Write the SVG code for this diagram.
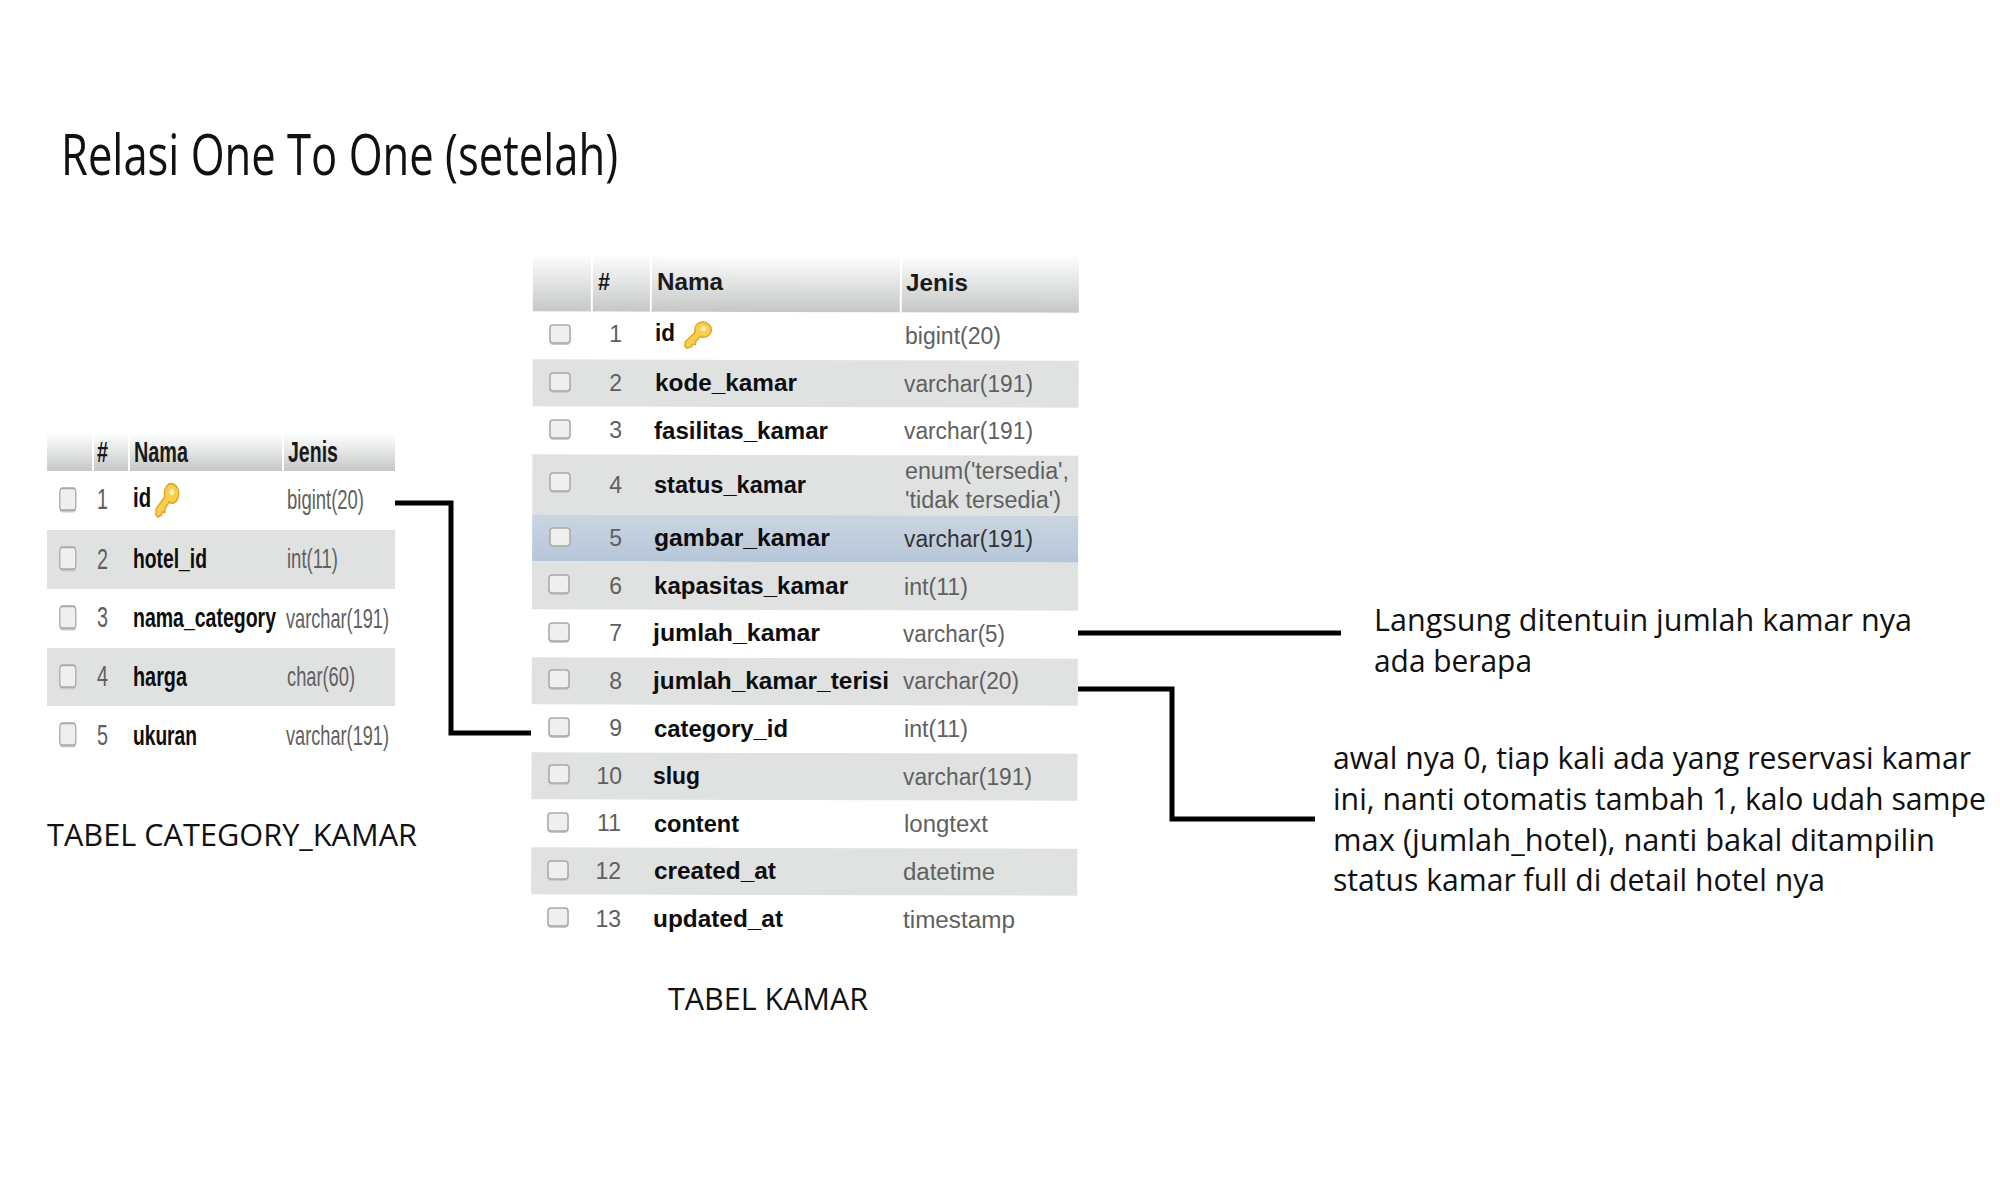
<svg xmlns="http://www.w3.org/2000/svg" width="2000" height="1200" viewBox="0 0 2000 1200">
<style>
text{font-family:"Liberation Sans",Arial,sans-serif}
.h{font-weight:700;fill:#1a1a1a;font-size:24px}
.hl{font-weight:700;fill:#1a1a1a;font-size:29px}
.n{font-weight:700;fill:#0d0d0d;font-size:23px}
.nl{font-weight:700;fill:#0d0d0d;font-size:28px}
.t{fill:#606060;font-size:23px}
.tl{fill:#606060;font-size:28px}
.d{fill:#606060;font-size:23px;text-anchor:end}
.dl{fill:#606060;font-size:29px}
.a{font-family:"Open Sans","Noto Sans",sans-serif;fill:#111;font-size:31px}
.odd{fill:#e0e2e2}
.sep{stroke:#fff;stroke-width:2;fill:none}
.conn{fill:none;stroke:#000;stroke-width:5}
</style>
<defs>
<linearGradient id="hg" x1="0" y1="0" x2="0" y2="1"><stop offset="0" stop-color="#fff"/><stop offset="1" stop-color="#c6c8c8"/></linearGradient>
<linearGradient id="sg" x1="0" y1="0" x2="0" y2="1"><stop offset="0" stop-color="#cbd5e1"/><stop offset="1" stop-color="#b6c6da"/></linearGradient>
<g id="cb"><rect x="0.5" y="2" width="21" height="19" rx="4" fill="#c9c9c9"/><rect x="1" y="1" width="20" height="18" rx="3" fill="#efefef" stroke="#a9a9a9" stroke-width="1.5"/></g>
<g id="key"><path d="M20 4a12 12 0 0 1 16 6a11 11 0 0 1-8 14a10 10 0 0 1-6-1l-6 6l-1 5l-4 0l-1 3l-6 2l-3-3l1-6l13-13a11 11 0 0 1 5-13z" fill="#f7cf4d" stroke="#e0a62a" stroke-width="2"/><circle cx="26" cy="12" r="3.5" fill="#fdf0b0"/></g>
</defs>
<rect width="2000" height="1200" fill="#fff"/>
<g id="title"><text class="a" x="61" y="175" style="font-size:56px" textLength="557" lengthAdjust="spacingAndGlyphs">Relasi One To One (setelah)</text></g>
<g id="table-category-kamar">
<rect x="47" y="433" width="348" height="38" fill="url(#hg)"/>
<path class="sep" d="M93 433V471M129 433V471M283 433V471"/>
<rect class="odd" x="47" y="530" width="348" height="59"/>
<rect class="odd" x="47" y="648" width="348" height="58"/>
<text class="hl" x="97" y="462" textLength="11" lengthAdjust="spacingAndGlyphs">#</text>
<text class="hl" x="134" y="462" textLength="54" lengthAdjust="spacingAndGlyphs">Nama</text>
<text class="hl" x="288" y="462" textLength="50" lengthAdjust="spacingAndGlyphs">Jenis</text>
<use href="#cb" transform="translate(59 487) scale(.8 1.22)"/>
<use href="#cb" transform="translate(59 546) scale(.8 1.22)"/>
<use href="#cb" transform="translate(59 605) scale(.8 1.22)"/>
<use href="#cb" transform="translate(59 664) scale(.8 1.22)"/>
<use href="#cb" transform="translate(59 722) scale(.8 1.22)"/>
<text class="dl" x="97" y="509" textLength="11" lengthAdjust="spacingAndGlyphs">1</text>
<text class="dl" x="97" y="569" textLength="11" lengthAdjust="spacingAndGlyphs">2</text>
<text class="dl" x="97" y="627" textLength="11" lengthAdjust="spacingAndGlyphs">3</text>
<text class="dl" x="97" y="686" textLength="11" lengthAdjust="spacingAndGlyphs">4</text>
<text class="dl" x="97" y="745" textLength="11" lengthAdjust="spacingAndGlyphs">5</text>
<text class="nl" x="133" y="507" textLength="18" lengthAdjust="spacingAndGlyphs">id</text>
<use href="#key" transform="translate(155 481) scale(.65 .92)"/>
<text class="nl" x="133" y="568" textLength="74" lengthAdjust="spacingAndGlyphs">hotel_id</text>
<text class="nl" x="133" y="627" textLength="143" lengthAdjust="spacingAndGlyphs">nama_category</text>
<text class="nl" x="133" y="686" textLength="54" lengthAdjust="spacingAndGlyphs">harga</text>
<text class="nl" x="133" y="745" textLength="64" lengthAdjust="spacingAndGlyphs">ukuran</text>
<text class="tl" x="287" y="509" textLength="77" lengthAdjust="spacingAndGlyphs">bigint(20)</text>
<text class="tl" x="287" y="568" textLength="51" lengthAdjust="spacingAndGlyphs">int(11)</text>
<text class="tl" x="286" y="628" textLength="103" lengthAdjust="spacingAndGlyphs">varchar(191)</text>
<text class="tl" x="287" y="686" textLength="68" lengthAdjust="spacingAndGlyphs">char(60)</text>
<text class="tl" x="286" y="745" textLength="103" lengthAdjust="spacingAndGlyphs">varchar(191)</text>
<text class="a" x="47" y="846" textLength="370" lengthAdjust="spacingAndGlyphs">TABEL CATEGORY_KAMAR</text>
</g>
<g id="table-kamar">
<g transform="rotate(.16 800 600)">
<rect x="532" y="254" width="546" height="58" fill="url(#hg)"/>
<path class="sep" d="M591 254V312M650 254V312M900 254V312"/>
<rect class="odd" x="532" y="360" width="546" height="47"/>
<rect class="odd" x="532" y="455" width="546" height="60"/>
<rect x="532" y="515" width="546" height="47" fill="url(#sg)"/>
<rect class="odd" x="532" y="562" width="546" height="48"/>
<rect class="odd" x="532" y="658" width="546" height="47"/>
<rect class="odd" x="532" y="753" width="546" height="47"/>
<rect class="odd" x="532" y="848" width="546" height="47"/>
</g>
<text class="h" x="598" y="290" textLength="12" lengthAdjust="spacingAndGlyphs">#</text>
<text class="h" x="657" y="290" textLength="66" lengthAdjust="spacingAndGlyphs">Nama</text>
<text class="h" x="906" y="291" textLength="62" lengthAdjust="spacingAndGlyphs">Jenis</text>
<use href="#cb" x="549" y="324"/><use href="#cb" x="549" y="372"/><use href="#cb" x="549" y="419"/><use href="#cb" x="549" y="472"/><use href="#cb" x="549" y="527"/><use href="#cb" x="548" y="574"/><use href="#cb" x="548" y="622"/><use href="#cb" x="548" y="669"/><use href="#cb" x="548" y="717"/><use href="#cb" x="548" y="764"/><use href="#cb" x="547" y="812"/><use href="#cb" x="547" y="860"/><use href="#cb" x="547" y="907"/>
<text class="d" x="622" y="342">1</text>
<text class="d" x="622" y="391">2</text>
<text class="d" x="622" y="438">3</text>
<text class="d" x="622" y="493">4</text>
<text class="d" x="622" y="546">5</text>
<text class="d" x="622" y="594">6</text>
<text class="d" x="622" y="641">7</text>
<text class="d" x="622" y="689">8</text>
<text class="d" x="622" y="736">9</text>
<text class="d" x="622" y="784">10</text>
<text class="d" x="621" y="831">11</text>
<text class="d" x="621" y="879">12</text>
<text class="d" x="621" y="927">13</text>
<text class="n" x="655" y="341" textLength="20" lengthAdjust="spacingAndGlyphs">id</text>
<use href="#key" transform="translate(684 320) scale(.75 .72)"/>
<text class="n" x="655" y="391" textLength="142" lengthAdjust="spacingAndGlyphs">kode_kamar</text>
<text class="n" x="654" y="439" textLength="174" lengthAdjust="spacingAndGlyphs">fasilitas_kamar</text>
<text class="n" x="654" y="493" textLength="152" lengthAdjust="spacingAndGlyphs">status_kamar</text>
<text class="n" x="654" y="546" textLength="176" lengthAdjust="spacingAndGlyphs">gambar_kamar</text>
<text class="n" x="654" y="594" textLength="194" lengthAdjust="spacingAndGlyphs">kapasitas_kamar</text>
<text class="n" x="653" y="641" textLength="167" lengthAdjust="spacingAndGlyphs">jumlah_kamar</text>
<text class="n" x="653" y="689" textLength="236" lengthAdjust="spacingAndGlyphs">jumlah_kamar_terisi</text>
<text class="n" x="654" y="737" textLength="134" lengthAdjust="spacingAndGlyphs">category_id</text>
<text class="n" x="653" y="784" textLength="47" lengthAdjust="spacingAndGlyphs">slug</text>
<text class="n" x="654" y="832" textLength="85" lengthAdjust="spacingAndGlyphs">content</text>
<text class="n" x="654" y="879" textLength="122" lengthAdjust="spacingAndGlyphs">created_at</text>
<text class="n" x="653" y="927" textLength="130" lengthAdjust="spacingAndGlyphs">updated_at</text>
<text class="t" x="905" y="344" textLength="96" lengthAdjust="spacingAndGlyphs">bigint(20)</text>
<text class="t" x="904" y="392" textLength="129" lengthAdjust="spacingAndGlyphs">varchar(191)</text>
<text class="t" x="904" y="439" textLength="129" lengthAdjust="spacingAndGlyphs">varchar(191)</text>
<text class="t" x="905" y="479" textLength="164" lengthAdjust="spacingAndGlyphs">enum('tersedia',</text>
<text class="t" x="905" y="508" textLength="156" lengthAdjust="spacingAndGlyphs">'tidak tersedia')</text>
<text class="t" x="904" y="547" textLength="129" lengthAdjust="spacingAndGlyphs" style="fill:#333">varchar(191)</text>
<text class="t" x="904" y="595" textLength="64" lengthAdjust="spacingAndGlyphs">int(11)</text>
<text class="t" x="903" y="642" textLength="102" lengthAdjust="spacingAndGlyphs">varchar(5)</text>
<text class="t" x="903" y="689" textLength="116" lengthAdjust="spacingAndGlyphs">varchar(20)</text>
<text class="t" x="904" y="737" textLength="64" lengthAdjust="spacingAndGlyphs">int(11)</text>
<text class="t" x="903" y="785" textLength="129" lengthAdjust="spacingAndGlyphs">varchar(191)</text>
<text class="t" x="904" y="832" textLength="84" lengthAdjust="spacingAndGlyphs">longtext</text>
<text class="t" x="903" y="880" textLength="92" lengthAdjust="spacingAndGlyphs">datetime</text>
<text class="t" x="903" y="928" textLength="112" lengthAdjust="spacingAndGlyphs">timestamp</text>
<text class="a" x="668" y="1010" textLength="200" lengthAdjust="spacingAndGlyphs">TABEL KAMAR</text>
</g>
<g id="connectors">
<path class="conn" d="M395 503H451V733H531"/>
<path class="conn" d="M1078 633H1341"/>
<path class="conn" d="M1078 689H1172V819H1315"/>
</g>
<g id="note-jumlah-kamar">
<text class="a" x="1374" y="631" textLength="538" lengthAdjust="spacingAndGlyphs">Langsung ditentuin jumlah kamar nya</text>
<text class="a" x="1374" y="672" textLength="158" lengthAdjust="spacingAndGlyphs">ada berapa</text>
</g>
<g id="note-jumlah-kamar-terisi">
<text class="a" x="1333" y="769" textLength="638" lengthAdjust="spacingAndGlyphs">awal nya 0, tiap kali ada yang reservasi kamar</text>
<text class="a" x="1333" y="810" textLength="653" lengthAdjust="spacingAndGlyphs">ini, nanti otomatis tambah 1, kalo udah sampe</text>
<text class="a" x="1333" y="851" textLength="602" lengthAdjust="spacingAndGlyphs">max (jumlah_hotel), nanti bakal ditampilin</text>
<text class="a" x="1333" y="891" textLength="492" lengthAdjust="spacingAndGlyphs">status kamar full di detail hotel nya</text>
</g>
</svg>
